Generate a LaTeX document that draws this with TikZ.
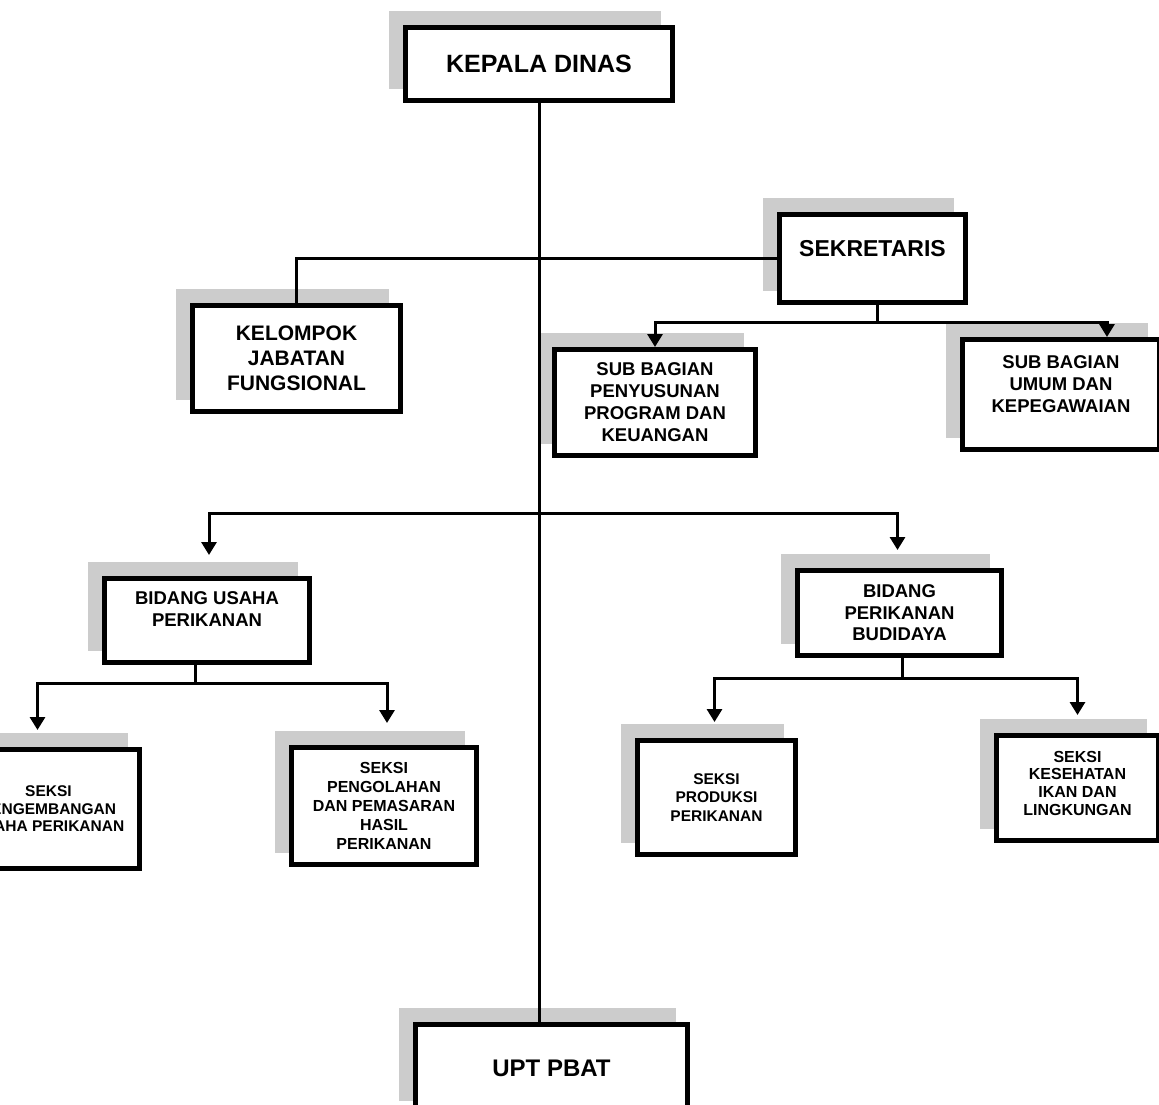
\documentclass[tikz,border=0pt]{standalone}
\usepackage{fontspec}
\setmainfont{Liberation Sans}
\usetikzlibrary{arrows.meta, shadows}

\tikzset{
  unit/.style={draw, line width=5pt, fill=white, align=center, inner sep=0pt,
    copy shadow={shadow xshift=-14pt, shadow yshift=14pt, fill=gray!40, draw=gray!40}},
  fs/.style 2 args={font=\bfseries\fontsize{#1}{#2}\selectfont},
  link/.style={line width=3pt},
  arr/.style={link, -{Triangle[length=13pt,width=15pt]}},
}

\begin{document}
\begin{tikzpicture}[x=1pt, y=-1pt]

% Page frame, same size as the scan
\useasboundingbox (0,0) rectangle (1159,1104);
\clip (0,0) rectangle (1159,1104);

% Top and bottom of the trunk
\node[unit, fs={25}{29}, minimum width=267pt, minimum height=73pt] (kepala) at (539,64) {KEPALA DINAS};
\node[unit, fs={24}{28}, minimum width=272pt, minimum height=88pt] (upt) at (551.5,1068) {UPT PBAT};

% Secretariat and its units
\node[unit, fs={23}{27}, minimum width=186pt, minimum height=88pt, text depth=20pt] (sekretaris) at (872.5,258.5) {SEKRETARIS};
\node[unit, fs={21}{25}, minimum width=208pt, minimum height=106pt] (kelompok) at (296.5,358.5) {KELOMPOK\\JABATAN\\FUNGSIONAL};
\node[unit, fs={18.5}{22}, minimum width=201pt, minimum height=106pt] (penyusunan) at (655,402.5) {SUB BAGIAN\\PENYUSUNAN\\PROGRAM DAN\\KEUANGAN};
\node[unit, fs={18.5}{22}, minimum width=197pt, minimum height=110pt, text depth=20pt] (umum) at (1061,394.5) {SUB BAGIAN\\UMUM DAN\\KEPEGAWAIAN};

% The two fields
\node[unit, fs={18.5}{22}, minimum width=205pt, minimum height=84pt, text depth=23pt] (usaha) at (207,620.5) {BIDANG USAHA\\PERIKANAN};
\node[unit, fs={18.5}{21.5}, minimum width=204pt, minimum height=85pt] (budidaya) at (899.5,613) {BIDANG\\PERIKANAN\\BUDIDAYA};

% Sections
\node[unit, fs={15.5}{17.5}, minimum width=182pt, minimum height=119pt] (pengembangan) at (48.5,809) {SEKSI\\PENGEMBANGAN\\USAHA PERIKANAN};
\node[unit, fs={16}{19}, minimum width=185pt, minimum height=117pt] (pengolahan) at (384,806) {SEKSI\\PENGOLAHAN\\DAN PEMASARAN\\HASIL\\PERIKANAN};
\node[unit, fs={15.5}{18.5}, minimum width=158pt, minimum height=114pt] (produksi) at (716.5,797.5) {SEKSI\\PRODUKSI\\PERIKANAN};
\node[unit, fs={16}{17.7}, minimum width=162pt, minimum height=105pt, text depth=10pt] (kesehatan) at (1077.5,788) {SEKSI\\KESEHATAN\\IKAN DAN\\LINGKUNGAN};

% Trunk from the head down to the UPT
\draw[link] (kepala.south) -- (kepala.south |- upt.north);

% Secretary to the functional group (no arrow)
\draw[link] (sekretaris.west) -| (kelompok.north);

% Secretary to its sub-units
\draw[link] ([xshift=5pt]sekretaris.south) -- ++(0,17) coordinate (sekbus);
\foreach \u/\dx in {penyusunan/0, umum/46} {
  \draw[arr] (sekbus) -| ([xshift=\dx pt]\u.north);
}

% Main bus across the trunk to the two fields
\coordinate (bus) at (kepala.south |- 0,513);
\foreach \u/\dx/\sh in {usaha/2/21, budidaya/-2/18} {
  \draw[arr, shorten >=\sh pt] (bus) -| ([xshift=\dx pt]\u.north);
}

% Fields to their sections
\draw[link] ([xshift=-12pt]usaha.south) -- ++(0,18) coordinate (usahabus);
\foreach \u/\dx/\sh in {pengembangan/-11/17, pengolahan/3/22} {
  \draw[arr, shorten >=\sh pt] (usahabus) -| ([xshift=\dx pt]\u.north);
}

\draw[link] ([xshift=3pt]budidaya.south) -- ++(0,20) coordinate (budbus);
\foreach \u/\dx/\sh in {produksi/-2/16, kesehatan/0/18} {
  \draw[arr, shorten >=\sh pt] (budbus) -| ([xshift=\dx pt]\u.north);
}

\end{tikzpicture}
\end{document}
